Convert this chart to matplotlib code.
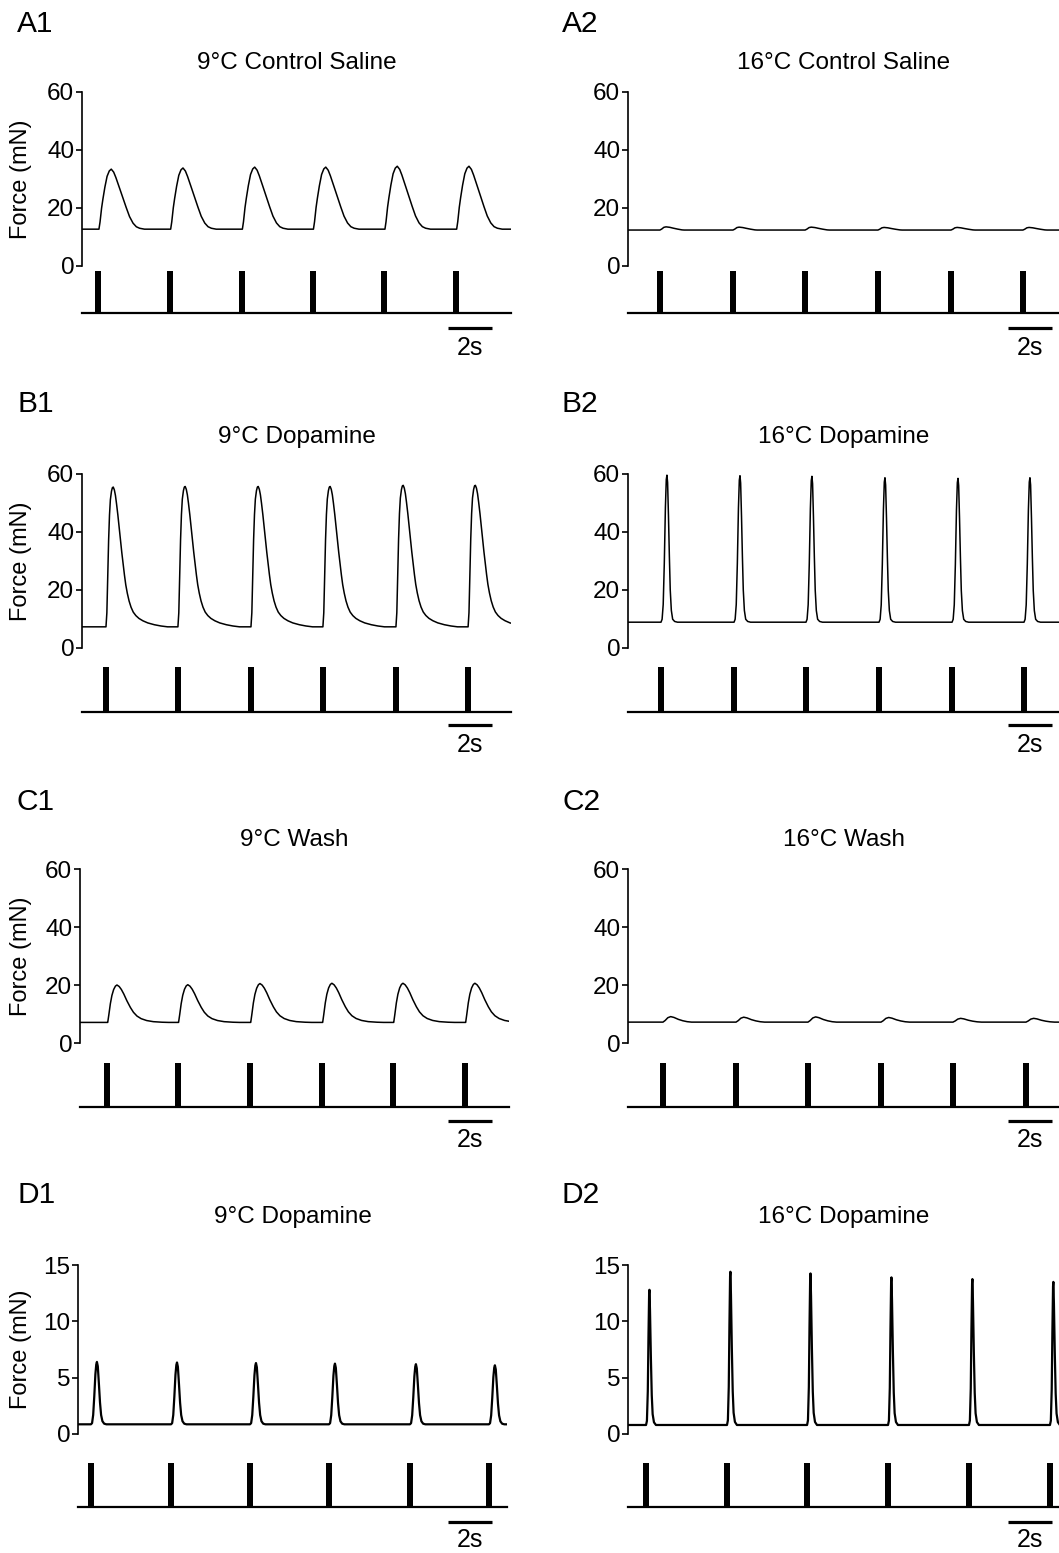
import numpy as np
import matplotlib
matplotlib.use("Agg")
import matplotlib.pyplot as plt

plt.rcParams['font.family'] = ['Liberation Sans', 'DejaVu Sans']

W, H = 1059, 1553
PX_PER_S = 22.0

# ---- twitch shapes (time after stimulus in s, fraction of twitch amplitude)
tw_ctrl9_t = [-0.05, 0.03, 0.08, 0.15, 0.21, 0.30, 0.40, 0.50, 0.59, 0.70, 0.80, 0.97, 1.12, 1.27, 1.42, 1.58, 1.73, 1.88, 2.10]
tw_ctrl9_f = [0.0, 0.0, 0.12, 0.35, 0.50, 0.70, 0.88, 0.97, 1.0, 0.95, 0.86, 0.68, 0.52, 0.36, 0.21, 0.10, 0.04, 0.015, 0.0]

tw_dopa9_t = [0.0, 0.04, 0.08, 0.12, 0.16, 0.20, 0.25, 0.29, 0.33, 0.38, 0.43, 0.48, 0.54, 0.60, 0.66,
              0.72, 0.78, 0.84, 0.90, 0.97, 1.05, 1.14, 1.24, 1.36, 1.50, 1.68, 1.90, 2.20, 2.50, 2.80]
tw_dopa9_f = [0.0, 0.10, 0.36, 0.62, 0.80, 0.91, 0.97, 0.995, 1.0, 0.98, 0.94, 0.88, 0.80, 0.71, 0.62,
              0.53, 0.45, 0.37, 0.30, 0.24, 0.185, 0.14, 0.105, 0.08, 0.06, 0.043, 0.028, 0.015, 0.006, 0.0]

tw_wash9_t = [0.0, 0.03, 0.08, 0.15, 0.22, 0.30, 0.38, 0.45, 0.55, 0.65, 0.76, 0.90, 1.06, 1.20, 1.36, 1.55, 1.80, 2.10, 2.50, 2.80]
tw_wash9_f = [0.0, 0.0, 0.20, 0.50, 0.72, 0.88, 0.97, 1.0, 0.96, 0.88, 0.76, 0.58, 0.40, 0.27, 0.17, 0.10, 0.05, 0.02, 0.005, 0.0]

tw_ctrl16_t = [0.0, 0.08, 0.18, 0.28, 0.45, 0.60, 0.80, 1.00, 1.10]
tw_ctrl16_f = [0.0, 0.30, 0.85, 1.0, 0.85, 0.60, 0.30, 0.05, 0.0]

tw_dopa16_t = [0.0, 0.05, 0.10, 0.15, 0.20, 0.24, 0.27, 0.30, 0.34, 0.38, 0.42, 0.47, 0.53, 0.62, 0.75]
tw_dopa16_f = [0.0, 0.02, 0.12, 0.40, 0.78, 0.97, 1.0, 0.95, 0.72, 0.45, 0.22, 0.08, 0.02, 0.005, 0.0]

tw_wash16_t = [0.0, 0.10, 0.22, 0.35, 0.50, 0.70, 0.90, 1.10, 1.30]
tw_wash16_f = [0.0, 0.30, 0.80, 1.0, 0.85, 0.50, 0.25, 0.08, 0.0]

tw_dopa9b_t = [0.0, 0.05, 0.10, 0.15, 0.20, 0.24, 0.27, 0.31, 0.36, 0.41, 0.46, 0.52, 0.60, 0.70]
tw_dopa9b_f = [0.0, 0.02, 0.15, 0.45, 0.80, 0.96, 1.0, 0.93, 0.65, 0.35, 0.15, 0.05, 0.01, 0.0]

tw_dopa16b_t = [0.0, 0.04, 0.08, 0.11, 0.14, 0.155, 0.18, 0.22, 0.26, 0.30, 0.36, 0.45]
tw_dopa16b_f = [0.0, 0.03, 0.25, 0.65, 0.97, 1.0, 0.85, 0.50, 0.22, 0.08, 0.02, 0.0]

# ---- stimulus times (s), baselines and peak forces (mN)
a1_stim = [0.74, 4.00, 7.26, 10.49, 13.74, 17.00]
a1_base = 12.7
a1_peak = [33.4, 33.8, 34.1, 34.1, 34.4, 34.4]

a2_stim = [1.45, 4.77, 8.05, 11.36, 14.68, 17.95]
a2_base = 12.4
a2_peak = [13.5, 13.4, 13.4, 13.3, 13.3, 13.3]

b1_stim = [1.09, 4.36, 7.68, 10.95, 14.27, 17.55]
b1_base = 7.3
b1_peak = [55.5, 55.7, 55.7, 55.7, 56.1, 56.1]

b2_stim = [1.50, 4.82, 8.09, 11.41, 14.73, 18.00]
b2_base = 8.9
b2_peak = [59.6, 59.4, 59.2, 58.7, 58.5, 58.7]

c1_stim = [1.23, 4.45, 7.73, 11.00, 14.23, 17.50]
c1_base = 7.1
c1_peak = [20.0, 20.1, 20.5, 20.6, 20.6, 20.6]

c2_stim = [1.59, 4.91, 8.18, 11.50, 14.77, 18.09]
c2_base = 7.2
c2_peak = [9.1, 8.9, 9.0, 8.8, 8.5, 8.5]

d1_stim = [0.59, 4.23, 7.82, 11.41, 15.09, 18.68]
d1_base = 0.86
d1_peak = [6.4, 6.35, 6.3, 6.25, 6.2, 6.1]

d2_stim = [0.82, 4.50, 8.14, 11.82, 15.50, 19.18]
d2_base = 0.8
d2_peak = [12.8, 14.4, 14.25, 13.9, 13.75, 13.5]

ticks_60 = [0, 20, 40, 60]
ticks_15 = [0, 5, 10, 15]

titles = ["9°C Control Saline", "16°C Control Saline",
          "9°C Dopamine", "16°C Dopamine",
          "9°C Wash", "16°C Wash",
          "9°C Dopamine", "16°C Dopamine"]
labels = ["A1", "A2", "B1", "B2", "C1", "C2", "D1", "D2"]

panels = [
    (a1_stim, a1_base, a1_peak, tw_ctrl9_t, tw_ctrl9_f),
    (a2_stim, a2_base, a2_peak, tw_ctrl16_t, tw_ctrl16_f),
    (b1_stim, b1_base, b1_peak, tw_dopa9_t, tw_dopa9_f),
    (b2_stim, b2_base, b2_peak, tw_dopa16_t, tw_dopa16_f),
    (c1_stim, c1_base, c1_peak, tw_wash9_t, tw_wash9_f),
    (c2_stim, c2_base, c2_peak, tw_wash16_t, tw_wash16_f),
    (d1_stim, d1_base, d1_peak, tw_dopa9b_t, tw_dopa9b_f),
    (d2_stim, d2_base, d2_peak, tw_dopa16b_t, tw_dopa16b_f),
]

# ---- layout in pixels: (label y, title y, axis top, axis zero, stim top, stim base, scalebar y, "2s" y)
rows = [
    (24, 63, 92, 266, 271, 313, 328, 348),
    (404, 437, 474, 648, 667, 712, 725, 745),
    (802, 840, 869, 1043, 1063, 1107, 1121, 1140),
    (1195, 1217, 1265, 1434, 1463, 1507, 1522, 1540),
]
left_x0 = [82, 82, 80, 78]
right_x0 = 628
col_len = [19.5, 19.6]
scalebar_px = [448, 1008]
label_px = [17, 562]


def build_trace(stims, base, peaks, tpl_t, tpl_f, t_end):
    t = [0.0]
    y = [base]
    for s, p in zip(stims, peaks):
        for dt, f in zip(tpl_t, tpl_f):
            t.append(s + dt)
            y.append(base + (p - base) * f)
    if t[-1] < t_end:
        t.append(t_end)
        y.append(base)
    return t, y


def fig_box(x0, x1, ytop, ybot):
    return [x0 / W, 1 - ybot / H, (x1 - x0) / W, (ybot - ytop) / H]


fig = plt.figure(figsize=(W / 100, H / 100), dpi=100)

for i, (stims, base, peaks, tt, tf) in enumerate(panels):
    r, c = divmod(i, 2)
    lab_y, tit_y, ax_top, ax_zero, st_top, st_base, sb_y, sbt_y = rows[r]
    x0 = left_x0[r] if c == 0 else right_x0
    tlen = col_len[c]
    x1 = x0 + tlen * PX_PER_S

    ax = fig.add_axes(fig_box(x0, x1, ax_top, ax_zero))
    t, y = build_trace(stims, base, peaks, tt, tf, tlen)
    lw = 1.6 if r == 3 else 1.1
    ax.plot(t, y, color='black', lw=lw)
    ax.set_xlim(0, tlen)
    if r == 3:
        ax.set_ylim(0, 15)
        ax.set_yticks(ticks_15)
    else:
        ax.set_ylim(0, 60)
        ax.set_yticks(ticks_60)
    ax.set_xticks([])
    for sp in ['top', 'right', 'bottom']:
        ax.spines[sp].set_visible(False)
    ax.spines['left'].set_linewidth(1.2)
    ax.tick_params(axis='y', direction='out', length=4, width=1.2, pad=1.5, labelsize=17.5)
    if c == 0:
        ax.set_ylabel("Force (mN)", fontsize=17)
        ax.yaxis.set_label_coords((32 - x0) / (x1 - x0), 0.5)

    # stimulus trace
    sx = fig.add_axes(fig_box(x0, x1, st_top, st_base))
    sx.bar(stims, 1.0, width=0.26, bottom=0, color='black', align='center')
    sx.axhline(0, color='black', lw=1.6, clip_on=False)
    sx.set_xlim(0, tlen)
    sx.set_ylim(0, 1)
    sx.axis('off')

    # 2 s scale bar
    hpx = st_base - st_top
    sb0 = (scalebar_px[c] - x0) / PX_PER_S
    sx.plot([sb0, sb0 + 2], [-(sb_y - st_base) / hpx] * 2, color='black', lw=2.3,
            clip_on=False, solid_capstyle='butt')
    sx.text(sb0 + 1, -(sbt_y - st_base) / hpx, "2s", ha='center', va='center', fontsize=18)

    # title and panel label
    fig.text((x0 + x1) / 2 / W, 1 - tit_y / H, titles[i], ha='center', va='center', fontsize=17.5)
    fig.text(label_px[c] / W, 1 - lab_y / H, labels[i], ha='left', va='center', fontsize=21.5)

fig.savefig("out.png", dpi=100)
